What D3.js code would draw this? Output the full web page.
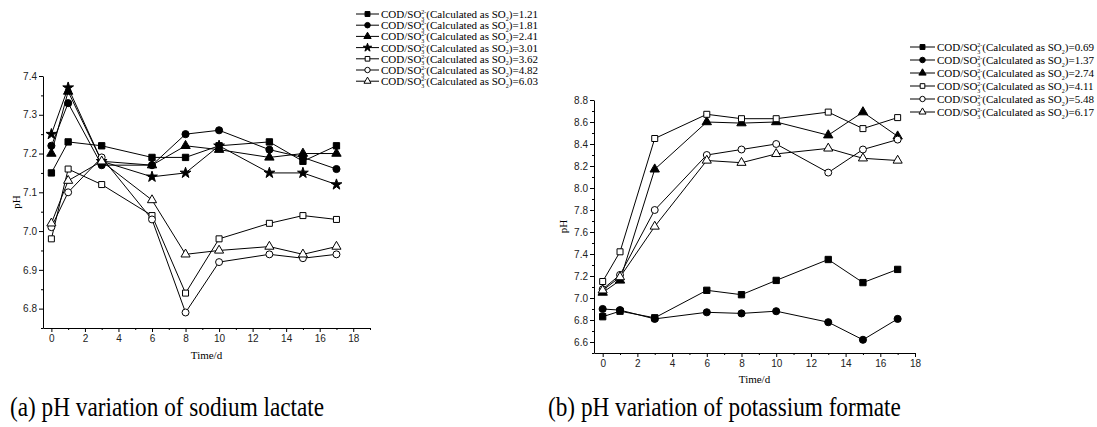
<!DOCTYPE html>
<html>
<head>
<meta charset="utf-8">
<script src="https://cdn.jsdelivr.net/npm/d3@7"></script>
<style>
  body { margin: 0; background: #fff; }
  svg { display: block; }
  .tick text { font-family: "Liberation Sans", Arial, sans-serif; font-size: 10px; fill: #222; }
  .domain, .tick line { stroke: #000; stroke-width: 1; }
  .serif { font-family: "Liberation Serif", "Times New Roman", serif; fill: #000; }
</style>
</head>
<body>
<svg id="chart" width="1097" height="427"></svg>
<script>
/*** DATA ***/
const days = [0, 1, 3, 6, 8, 10, 13, 15, 17];

// (a) sodium lactate
const lactateRatios = ['1.21', '1.81', '2.41', '3.01', '3.62', '4.82', '6.03'];
const lactatePH = [
  [7.15, 7.23, 7.22, 7.19, 7.19, 7.22, 7.23, 7.18, 7.22],
  [7.22, 7.33, 7.17, 7.17, 7.25, 7.26, 7.21, 7.19, 7.16],
  [7.20, 7.36, 7.18, 7.17, 7.22, 7.21, 7.19, 7.20, 7.20],
  [7.25, 7.37, 7.18, 7.14, 7.15, 7.22, 7.15, 7.15, 7.12],
  [6.98, 7.16, 7.12, 7.04, 6.84, 6.98, 7.02, 7.04, 7.03],
  [7.01, 7.10, 7.19, 7.03, 6.79, 6.92, 6.94, 6.93, 6.94],
  [7.02, 7.13, 7.18, 7.08, 6.94, 6.95, 6.96, 6.94, 6.96]
];
const lactateMarkers = ['square', 'circle', 'triangle', 'star', 'square-o', 'circle-o', 'triangle-o'];

// (b) potassium formate
const formateRatios = ['0.69', '1.37', '2.74', '4.11', '5.48', '6.17'];
const formatePH = [
  [6.83, 6.88, 6.82, 7.07, 7.03, 7.16, 7.35, 7.14, 7.26],
  [6.90, 6.89, 6.81, 6.87, 6.86, 6.88, 6.78, 6.62, 6.81],
  [7.05, 7.16, 8.17, 8.60, 8.59, 8.60, 8.48, 8.69, 8.47],
  [7.15, 7.42, 8.45, 8.67, 8.63, 8.63, 8.69, 8.54, 8.64],
  [7.08, 7.21, 7.80, 8.30, 8.35, 8.40, 8.14, 8.35, 8.44],
  [7.07, 7.19, 7.65, 8.25, 8.23, 8.31, 8.36, 8.27, 8.25]
];
const formateMarkers = ['square', 'circle', 'triangle', 'square-o', 'circle-o', 'triangle-o'];

const xTicksMajor = [0, 2, 4, 6, 8, 10, 12, 14, 16, 18];
const captions = ['(a) pH variation of sodium lactate', '(b) pH variation of potassium formate'];

/*** MARKERS ***/
const symbolOf = {
  'square':   {type: d3.symbolSquare,   size: 40, fill: '#000'},
  'circle':   {type: d3.symbolCircle,   size: 40, fill: '#000'},
  'triangle': {type: d3.symbolTriangle, size: 38, fill: '#000'},
  'star':     {type: d3.symbolStar,     size: 36, fill: '#000'},
  'square-o':   {type: d3.symbolSquare,   size: 36, fill: '#fff'},
  'circle-o':   {type: d3.symbolCircle,   size: 38, fill: '#fff'},
  'triangle-o': {type: d3.symbolTriangle, size: 36, fill: '#fff'}
};

function drawMarker(g, name, x, y, scale = 1) {
  const s = symbolOf[name];
  g.append('path')
    .attr('d', d3.symbol(s.type, s.size * scale)())
    .attr('transform', `translate(${x},${y})`)
    .attr('fill', s.fill)
    .attr('stroke', '#000')
    .attr('stroke-width', 1);
}

const svg = d3.select('#chart');

/*** ONE PANEL ***/
function drawPanel(p) {
  const x = d3.scaleLinear().domain(p.xDomain).range(p.xRange);
  const y = d3.scaleLinear().domain(p.yDomain).range(p.yRange);
  const g = svg.append('g');

  // axes: major + minor ticks
  const bottom = p.yRange[0], left = p.xRange[0];
  g.append('g').attr('transform', `translate(0,${bottom})`)
    .call(d3.axisBottom(x).tickValues(xTicksMajor).tickSize(4).tickSizeOuter(0).tickPadding(3))
    .call(a => a.selectAll('.tick text').attr('dy', '0.71em'));
  g.append('g').attr('transform', `translate(0,${bottom})`)
    .call(d3.axisBottom(x).tickValues(p.xMinor).tickSize(2).tickFormat(''))
    .call(a => a.select('.domain').remove());

  g.append('g').attr('transform', `translate(${left},0)`)
    .call(d3.axisLeft(y).tickValues(p.yMajor).tickSize(4).tickSizeOuter(0).tickPadding(2)
      .tickFormat(d3.format('.1f')));
  g.append('g').attr('transform', `translate(${left},0)`)
    .call(d3.axisLeft(y).tickValues(p.yMinor).tickSize(2).tickFormat(''))
    .call(a => a.select('.domain').remove());

  // axis titles
  g.append('text').attr('class', 'serif')
    .attr('transform', `translate(${p.phX},${(p.yRange[0] + p.yRange[1]) / 2}) rotate(-90)`)
    .attr('text-anchor', 'middle').attr('font-size', 11).text('pH');
  g.append('text').attr('class', 'serif')
    .attr('x', (p.xRange[0] + p.xRange[1]) / 2).attr('y', p.timeY)
    .attr('text-anchor', 'middle').attr('font-size', 11).text('Time/d');

  // series
  const line = d3.line().x((d, i) => x(days[i])).y(d => y(d));
  p.values.forEach(vals => {
    g.append('path').attr('d', line(vals))
      .attr('fill', 'none').attr('stroke', '#000').attr('stroke-width', 1);
  });
  p.values.forEach((vals, k) => {
    vals.forEach((v, i) => drawMarker(g, p.markers[k], x(days[i]), y(v)));
  });

  // legend
  p.ratios.forEach((r, k) => {
    const ly = p.legY + k * p.legStep;
    const lg = g.append('g');
    lg.append('line').attr('x1', p.legX).attr('x2', p.legX + p.legLen)
      .attr('y1', ly).attr('y2', ly).attr('stroke', '#000');
    drawMarker(lg, p.markers[k], p.legX + p.legLen / 2, ly, 0.6);
    const t = lg.append('text').attr('class', 'serif')
      .attr('x', p.legX + p.legLen + 2).attr('y', ly + 4).attr('font-size', 11);
    t.append('tspan').text('COD/SO');
    t.append('tspan').attr('font-size', 6).attr('dy', 2.5).text('3');
    t.append('tspan').attr('font-size', 6).attr('dy', -6.5).attr('dx', -3).text('2-');
    t.append('tspan').attr('dy', 4).text('(Calculated as SO');
    t.append('tspan').attr('font-size', 6).attr('dy', 2.5).text('2');
    t.append('tspan').attr('dy', -2.5).text(')=' + r);
  });
}

drawPanel({
  xDomain: [-0.5, 19], xRange: [43, 370],
  yDomain: [6.75, 7.4], yRange: [328, 76],
  xMinor: d3.range(1, 20, 2),
  yMajor: d3.range(6.8, 7.41, 0.1), yMinor: d3.range(6.75, 7.41, 0.1),
  values: lactatePH, markers: lactateMarkers, ratios: lactateRatios,
  phX: 20, timeY: 359,
  legX: 356, legLen: 23, legY: 14, legStep: 11.2
});

drawPanel({
  xDomain: [-0.5, 18], xRange: [594, 915],
  yDomain: [6.5, 8.8], yRange: [353, 100],
  xMinor: d3.range(1, 18, 2),
  yMajor: d3.range(6.6, 8.81, 0.2), yMinor: d3.range(6.5, 8.81, 0.2),
  values: formatePH, markers: formateMarkers, ratios: formateRatios,
  phX: 567, timeY: 383,
  legX: 910, legLen: 25, legY: 47, legStep: 13
});

// captions
svg.selectAll('text.caption')
  .data(captions)
  .enter().append('text')
    .attr('class', 'serif caption')
    .attr('transform', (d, i) => `translate(${i === 0 ? 10 : 548},416) scale(0.83,1)`)
    .attr('font-size', 28)
    .text(d => d);
</script>
</body>
</html>
